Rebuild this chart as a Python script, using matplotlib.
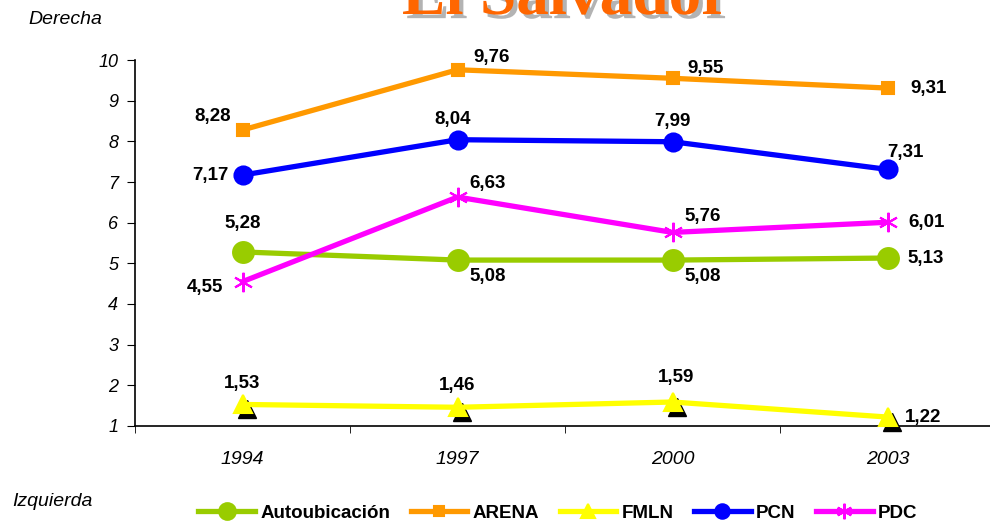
import numpy as np
import matplotlib.pyplot as plt
import matplotlib.patheffects as pe
import matplotlib.transforms as mtransforms

# --- datos ---
anios = ['1994', '1997', '2000', '2003']
autoubicacion = [5.28, 5.08, 5.08, 5.13]
arena = [8.28, 9.76, 9.55, 9.31]
fmln = [1.53, 1.46, 1.59, 1.22]
pcn = [7.17, 8.04, 7.99, 7.31]
pdc = [4.55, 6.63, 5.76, 6.01]

# desplazamiento de etiquetas (pixeles)
off_auto = [(0, 28), (30, -16), (30, -16), (38, 0)]
off_arena = [(-30, 13), (34, 12), (33, 10), (41, 0)]
off_fmln = [(0, 21), (0, 22), (4, 25), (36, 0)]
off_pcn = [(-32, 0), (-5, 20), (0, 20), (18, 17)]
off_pdc = [(-38, -6), (30, 14), (30, 16), (39, 0)]

plt.rcParams['font.family'] = ['Liberation Sans', 'DejaVu Sans']

fig = plt.figure(figsize=(9.9, 5.23), dpi=100)
ax = fig.add_axes([135 / 990, 97 / 523, 860 / 990, 366 / 523])
x = np.arange(len(anios))

# sombra negra de los triangulos
sombra = mtransforms.offset_copy(ax.transData, fig=fig, x=4, y=-5, units='dots')
ax.plot(x, fmln, linestyle='none', marker='^', markersize=13, color='black',
        transform=sombra, zorder=2, clip_on=False)

series = [
    ('Autoubicación', autoubicacion, '#99CC00', 'o', 15, off_auto),
    ('ARENA', arena, '#FF9900', 's', 9, off_arena),
    ('FMLN', fmln, '#FFFF00', '^', 13, off_fmln),
    ('PCN', pcn, '#0000FF', 'o', 13, off_pcn),
    ('PDC', pdc, '#FF00FF', (6, 2, 0), 14, off_pdc),
]

for nombre, vals, color, marker, ms, offs in series:
    ax.plot(x, vals, color=color, linewidth=3.8, marker=marker, markersize=ms,
            markeredgecolor=color, markeredgewidth=1.5, label=nombre, zorder=3,
            clip_on=False)
    for xi, v, (dx, dy) in zip(x, vals, offs):
        ax.annotate(f'{v:.2f}'.replace('.', ','), (xi, v), xytext=(dx, dy),
                    textcoords='offset pixels', ha='center', va='center',
                    fontsize=13.5, fontweight='bold', color='black', zorder=5)

ax.set_xlim(-0.5, 3.5)
ax.set_ylim(1, 10)
ax.set_yticks(range(1, 11))
ax.set_yticklabels([str(i) for i in range(1, 11)], fontsize=13, style='italic')
ax.set_xticks(x)
ax.set_xticklabels(anios, fontsize=14, style='italic')
ax.set_xticks(np.arange(-0.5, 4.0, 1.0), minor=True)
ax.tick_params(axis='x', which='major', length=0, pad=18)
ax.tick_params(axis='x', which='minor', length=5, direction='out')
ax.tick_params(axis='y', length=6, direction='out', pad=6)
for s in ['top', 'right']:
    ax.spines[s].set_visible(False)
ax.spines['left'].set_linewidth(1.2)
ax.spines['bottom'].set_linewidth(1.2)

fig.text(566 / 990, 1 - 14 / 523, 'El Salvador', ha='center', va='baseline',
         fontsize=47, fontweight='bold', color='#FF6600', family='Liberation Serif',
         path_effects=[pe.withSimplePatchShadow(offset=(3, -3), shadow_rgbFace='#A0A0A0',
                                                alpha=0.8)])
fig.text(28 / 990, 1 - 20 / 523, 'Derecha', ha='left', va='center',
         fontsize=14, style='italic')
fig.text(12 / 990, 1 - 502 / 523, 'Izquierda', ha='left', va='center',
         fontsize=14, style='italic')

leg = fig.legend(loc='center', bbox_to_anchor=(558 / 990, 1 - 513 / 523), ncol=5,
                 frameon=False, handlelength=3.0, columnspacing=1.1, handletextpad=0.3,
                 markerscale=0.8, prop={'size': 13.5, 'weight': 'bold'})

fig.savefig('out.png', dpi=100)
